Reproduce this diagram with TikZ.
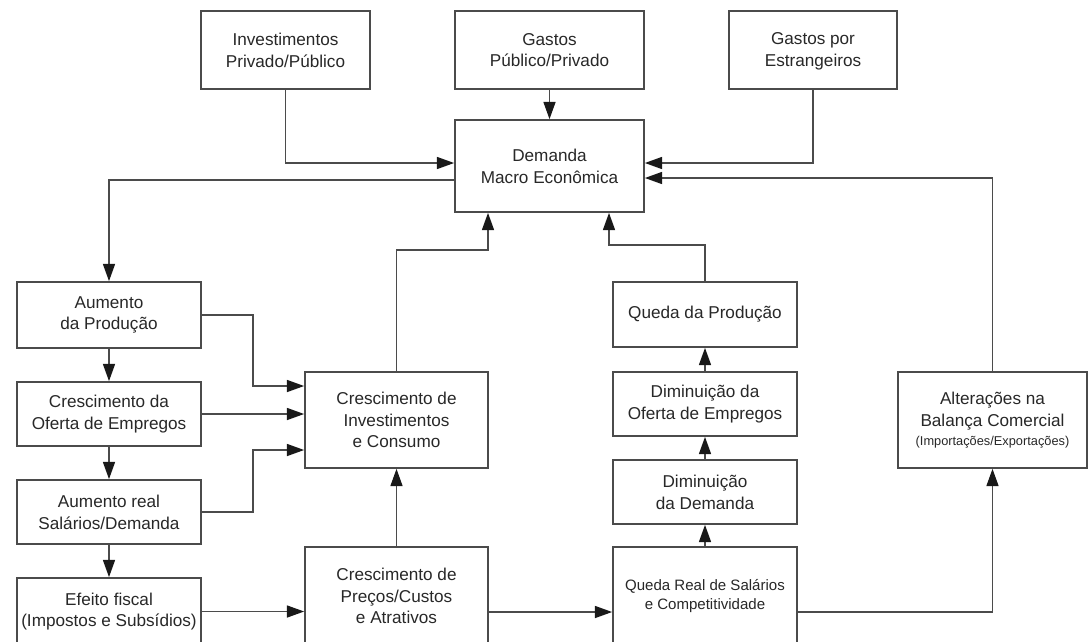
\documentclass[tikz,border=0pt]{standalone}
\usepackage{fontspec}
\setmainfont{Liberation Sans}
\usetikzlibrary{arrows.meta,positioning,calc}
\definecolor{linegray}{RGB}{75,75,75}
\definecolor{textgray}{RGB}{40,40,40}
\tikzstyle{arrow} = [line width=1pt, draw=linegray, -{Triangle[length=0.43cm,width=0.3cm,fill=black!90,color=black!90]}]
\tikzstyle{caixa} = [rectangle, draw=linegray, line width=1.2pt, fill=white, text=textgray, align=center, inner sep=0pt, minimum width=4.6cm, minimum height=1.6cm, font=\fontsize{12.2}{15.5}\selectfont]

\begin{document}
\begin{tikzpicture}[x=0.025cm, y=-0.025cm]
\useasboundingbox (0,0) rectangle (1088,641);
% Origens da demanda
\node[caixa, minimum width=4.225cm, minimum height=1.95cm] (inv) at (285.5,50) {Investimentos\\Privado/Público};
\node[caixa, minimum width=4.725cm, minimum height=1.95cm] (gpp) at (549.5,50) {Gastos\\Público/Privado};
\node[caixa, minimum width=4.2cm, minimum height=1.95cm] (est) at (813,50) {\strut Gastos por\\Estrangeiros};
\node[caixa, minimum width=4.725cm, minimum height=2.3cm] (dem) at (549.5,166) {Demanda\\Macro Econômica};
% Lado do crescimento
\node[caixa, minimum height=1.65cm] (aum) at (109,315) {Aumento\\da Produção};
\node[caixa] (ofe) at (109,414) {Crescimento da\\Oferta de Empregos};
\node[caixa] (real) at (109,512) {Aumento real\\Salários/Demanda};
\node[caixa, minimum height=1.675cm] (efe) at (109,611.5) {Efeito fiscal\\(Impostos e Subsídios)};
\node[caixa, minimum width=4.575cm, minimum height=2.4cm] (cinv) at (396.5,420) {Crescimento de\\Investimentos\\e Consumo};
\node[caixa, minimum width=4.575cm, minimum height=2.45cm] (cpr) at (396.5,596) {Crescimento de\\Preços/Custos\\e Atrativos};
% Lado da queda
\node[caixa, minimum height=1.625cm] (qp) at (705,314.5) {Queda da Produção};
\node[caixa] (dof) at (705,404) {Diminuição da\\Oferta de Empregos};
\node[caixa] (ddm) at (705,492) {Diminuição\\da Demanda};
\node[caixa, minimum height=2.45cm, font=\fontsize{10.7}{13.5}\selectfont] (qr) at (705,596) {Queda Real de Salários\\e Competitividade};
\node[caixa, minimum width=4.725cm, minimum height=2.4cm] (alt) at (992.5,420) {Alterações na\\Balança Comercial\\[-2pt]{\fontsize{9.1}{11}\selectfont (Importações/Exportações)}};

\draw[arrow] (inv.south) |- ($(dem.west)+(0,-3)$);
\draw[arrow] (gpp) -- (dem);
\draw[arrow] (est.south) |- ($(dem.east)+(0,-3)$);
\draw[arrow] (alt.north) |- ($(dem.east)+(0,12)$);
\draw[arrow] ($(dem.west)+(0,14)$) -| (aum.north);
\draw[arrow] (cinv.north) -- ++(0,-121) -| ($(dem.south)+(-61.5,0)$);
\draw[arrow] (qp.north) -- ++(0,-36) -| ($(dem.south)+(59.5,0)$);

\draw[arrow] (aum) -- (ofe);
\draw[arrow] (ofe) -- (real);
\draw[arrow] (real) -- (efe);
\draw[arrow] (aum.east) -- ++(51,0) |- ($(cinv.west)+(0,-34)$);
\draw[arrow] (ofe.east) -- (ofe.east -| cinv.west);
\draw[arrow] (real.east) -- ++(51,0) |- ($(cinv.west)+(0,30)$);
\draw[arrow] (efe.east) -- (efe.east -| cpr.west);
\draw[arrow] (cpr) -- (cinv);

\draw[arrow] ($(cpr.east)+(0,16)$) -- ($(qr.west)+(0,16)$);
\draw[arrow] (qr) -- (ddm);
\draw[arrow] (ddm) -- (dof);
\draw[arrow] (dof) -- (qp);
\draw[arrow] ($(qr.east)+(0,16)$) -| (alt.south);
\end{tikzpicture}
\end{document}
